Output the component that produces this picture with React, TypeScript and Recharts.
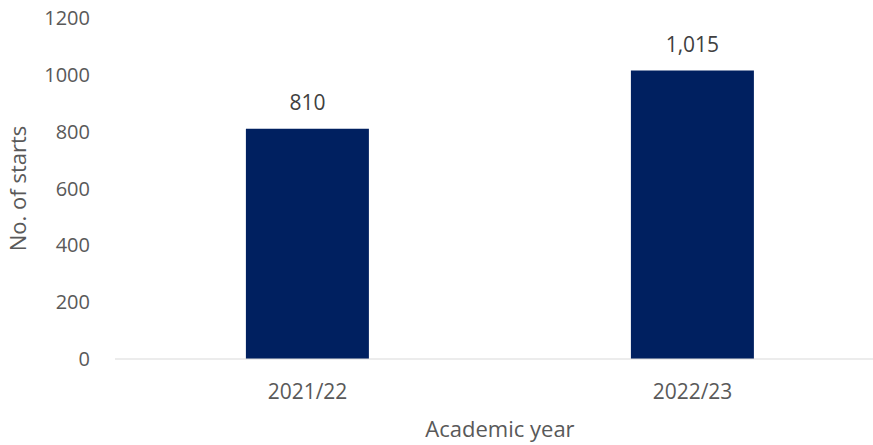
import React from 'react';
import { BarChart, Bar, XAxis, YAxis, LabelList } from 'recharts';

const years = ['2021/22', '2022/23'];
const starts = [810, 1015];
const yTicks = [0, 200, 400, 600, 800, 1000, 1200];

const data = years.map((year, i) => ({ year, starts: starts[i] }));

const font = '"Open Sans", sans-serif';

const App: React.FC = () => {
  return (
    <div style={{ position: 'absolute', top: 0, left: 0, width: 873, height: 445, background: '#fff', overflow: 'hidden' }}>
      <BarChart
        width={885}
        height={445}
        data={data}
        margin={{ top: 18, right: 0, bottom: 0, left: 0 }}
        barCategoryGap="34%"
      >
        <XAxis
          dataKey="year"
          height={86}
          axisLine={{ stroke: '#d9d9d9' }}
          tickLine={false}
          tickMargin={19}
          tick={{ fill: '#595959', fontSize: 21, fontFamily: font }}
          label={{ value: 'Academic year', position: 'insideBottom', offset: 8, fill: '#595959', fontSize: 22, fontFamily: font }}
        />
        <YAxis
          width={115}
          domain={[0, 1200]}
          ticks={yTicks}
          axisLine={false}
          tickLine={false}
          tickMargin={19}
          tick={{ fill: '#595959', fontSize: 20, fontFamily: font }}
          label={{ value: 'No. of starts', angle: -90, position: 'insideLeft', offset: 18, fill: '#595959', fontSize: 22, fontFamily: font, style: { textAnchor: 'middle' } }}
        />
        <Bar dataKey="starts" fill="#002060" isAnimationActive={false}>
          <LabelList
            dataKey="starts"
            position="top"
            offset={19}
            formatter={(v: number) => v.toLocaleString('en-GB')}
            style={{ fill: '#404040', fontSize: 21, fontFamily: font }}
          />
        </Bar>
      </BarChart>
    </div>
  );
};

export default App;
